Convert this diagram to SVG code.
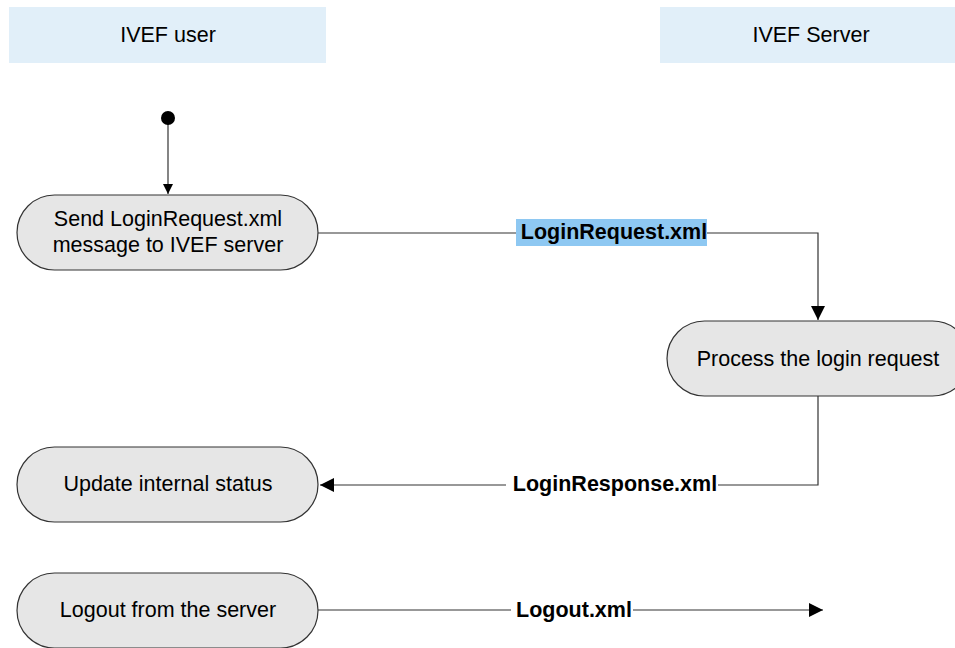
<svg xmlns="http://www.w3.org/2000/svg" width="955" height="648" viewBox="0 0 955 648">
<defs>
<style>
.lane{fill:#e1eff9}
.lt{font-family:"Liberation Sans",Arial,sans-serif;font-size:21.5px;fill:#000;text-anchor:middle}
.node{fill:#e6e6e6;stroke:#333;stroke-width:1.2}
.nt{font-family:"Liberation Sans",Arial,sans-serif;font-size:21.5px;fill:#000;text-anchor:middle}
.edge{fill:none;stroke:#333;stroke-width:1.2}
.el{font-family:"Liberation Sans",Arial,sans-serif;font-size:21.5px;font-weight:bold;fill:#000;text-anchor:middle}
</style>
<marker id="arr" viewBox="0 0 10 10" refX="10" refY="5" markerWidth="10" markerHeight="10" markerUnits="userSpaceOnUse" orient="auto">
<path d="M0,0 L10,5 L0,10 z" fill="#000"/>
</marker>
<marker id="arrB" viewBox="0 0 14 14" refX="14" refY="7" markerWidth="14" markerHeight="14" markerUnits="userSpaceOnUse" orient="auto">
<path d="M0,0 L14,7 L0,14 z" fill="#000"/>
</marker>
</defs>
<rect width="955" height="648" fill="#fff"/>
<g id="lane-user"><rect class="lane" x="9" y="7" width="317" height="56"/><text class="lt" x="168" y="42">IVEF user</text></g>
<g id="lane-server"><rect class="lane" x="660" y="7" width="295" height="56"/><text class="lt" x="811" y="42">IVEF Server</text></g>
<g id="connectors">
<line class="edge" x1="168" y1="118" x2="168" y2="194" marker-end="url(#arr)"/>
<path class="edge" d="M318,233 H818 V320" marker-end="url(#arrB)"/>
<path class="edge" d="M818,396 V485 H320" marker-end="url(#arrB)"/>
<line class="edge" x1="318" y1="610" x2="823" y2="610" marker-end="url(#arrB)"/>
<rect x="516" y="219" width="191" height="27" fill="#8ec8f2"/>
<text class="el" x="614" y="239">LoginRequest.xml</text>
<rect x="506" y="473" width="212" height="24" fill="#fff"/>
<text class="el" x="615" y="491">LoginResponse.xml</text>
<rect x="511" y="598" width="122" height="24" fill="#fff"/>
<text class="el" x="574" y="617">Logout.xml</text>
</g>
<g id="start"><circle cx="168" cy="118" r="7" fill="#000"/></g>
<g id="n1"><rect class="node" x="17" y="195" width="301" height="75" rx="37.5" ry="37.5"/><text class="nt" x="168" y="226">Send LoginRequest.xml</text><text class="nt" x="168" y="252">message to IVEF server</text></g>
<g id="n2"><rect class="node" x="667" y="321" width="303" height="75" rx="37.5" ry="37.5"/><text class="nt" x="818" y="366">Process the login request</text></g>
<g id="n3"><rect class="node" x="17" y="447" width="301" height="75" rx="37.5" ry="37.5"/><text class="nt" x="168" y="491">Update internal status</text></g>
<g id="n4"><rect class="node" x="17" y="573" width="301" height="75" rx="37.5" ry="37.5"/><text class="nt" x="168" y="617">Logout from the server</text></g>
</svg>
